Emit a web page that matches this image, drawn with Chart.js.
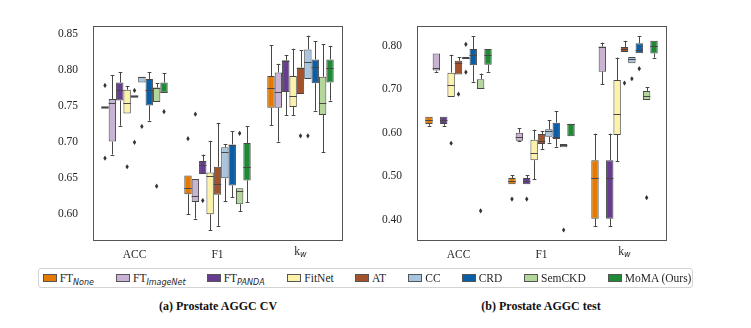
<!DOCTYPE html>
<html><head><meta charset="utf-8">
<script src="https://cdn.jsdelivr.net/npm/chart.js@4/dist/chart.umd.min.js"></script>
<style>
html,body{margin:0;padding:0;background:#fff;}
body{width:751px;height:328px;position:relative;overflow:hidden;font-family:"Liberation Serif",serif;color:#262626;}
.wrap{position:absolute;top:0;}
#legend{position:absolute;left:38px;top:268px;width:655px;height:20px;border:1px solid #d4d4d4;border-radius:3px;box-sizing:border-box;}
.it{position:absolute;top:271px;height:14px;line-height:14px;font-size:11.5px;white-space:nowrap;}
.sw{position:absolute;left:0;top:3px;width:14px;height:8px;box-sizing:border-box;border:1px solid #555;}
.tx{position:absolute;left:17px;top:0;}
.sb{font-family:"DejaVu Sans",sans-serif;font-style:italic;font-size:8px;position:relative;top:2.5px;}
.cap{position:absolute;top:299px;font-weight:bold;font-size:12px;transform:translateX(-50%);white-space:nowrap;color:#111;}
</style>
</head><body>
<div class="wrap" style="left:0"><canvas id="c1" width="350" height="262"></canvas></div>
<div class="wrap" style="left:330px"><canvas id="c2" width="350" height="262"></canvas></div>
<div id="legend"></div>
<div class="cap" style="left:218px">(a) Prostate AGGC CV</div>
<div class="cap" style="left:541px">(b) Prostate AGGC test</div>
<script>
// ---------- data ----------
const methodMain = ['FT','FT','FT','FitNet','AT','CC','CRD','SemCKD','MoMA (Ours)'];
const methodSub  = ['None','ImageNet','PANDA','','','','','',''];
const metrics = ['ACC','F1','kw'];

// five-number summaries [min, q1, median, q3, max] per method
const cvACC = [[0.749,0.749,0.749,0.749,0.749],[0.683,0.701,0.754,0.760,0.793],[0.723,0.758,0.773,0.783,0.797],[0.740,0.740,0.755,0.773,0.778],[0.764,0.764,0.764,0.764,0.764],[0.783,0.783,0.790,0.791,0.791],[0.730,0.751,0.772,0.788,0.797],[0.756,0.756,0.775,0.776,0.782],[0.769,0.769,0.770,0.783,0.796]];
const cvF1  = [[0.600,0.628,0.636,0.654,0.654],[0.594,0.617,0.626,0.649,0.649],[0.656,0.656,0.668,0.674,0.683],[0.578,0.600,0.653,0.658,0.702],[0.584,0.627,0.642,0.666,0.727],[0.618,0.650,0.686,0.693,0.697],[0.624,0.640,0.696,0.697,0.715],[0.604,0.614,0.633,0.636,0.636],[0.617,0.647,0.665,0.699,0.722]];
const cvKw  = [[0.724,0.748,0.775,0.792,0.835],[0.701,0.748,0.770,0.797,0.809],[0.738,0.770,0.8125,0.814,0.821],[0.738,0.749,0.764,0.792,0.830],[0.767,0.767,0.8025,0.804,0.828],[0.788,0.788,0.8115,0.829,0.848],[0.744,0.782,0.804,0.815,0.840],[0.686,0.738,0.755,0.791,0.836],[0.758,0.783,0.803,0.815,0.834]];
const cvACCout = [[0.779,0.678],[],[],[0.666],[0.772,0.700],[0.722],[],[0.639],[0.7425]];
const cvF1out  = [[0.705],[0.739],[0.619],[],[],[],[],[0.7125],[]];
const cvKwOut  = [[],[],[],[],[0.709],[0.709],[],[],[]];

const testACC = [[0.616,0.620,0.629,0.637,0.637],[0.740,0.743,0.749,0.782,0.782],[0.616,0.620,0.629,0.637,0.637],[0.682,0.682,0.710,0.738,0.779],[0.734,0.734,0.760,0.765,0.773],[0.769,0.769,0.771,0.774,0.774],[0.717,0.755,0.779,0.792,0.822],[0.701,0.701,0.702,0.723,0.736],[0.740,0.756,0.779,0.792,0.792]];
const testF1  = [[0.482,0.482,0.490,0.496,0.502],[0.580,0.582,0.591,0.600,0.6105],[0.482,0.482,0.490,0.496,0.502],[0.493,0.537,0.553,0.584,0.607],[0.563,0.5745,0.580,0.597,0.603],[0.5775,0.591,0.603,0.608,0.6295],[0.568,0.586,0.5905,0.623,0.649],[0.567,0.567,0.571,0.574,0.574],[0.592,0.592,0.620,0.621,0.621]];
const testKw  = [[0.386,0.403,0.497,0.537,0.598],[0.711,0.740,0.796,0.798,0.807],[0.386,0.403,0.497,0.537,0.598],[0.535,0.595,0.643,0.721,0.7725],[0.7855,0.7855,0.793,0.797,0.811],[0.7596,0.7596,0.770,0.774,0.774],[0.7825,0.7825,0.790,0.8055,0.822],[0.675,0.675,0.685,0.696,0.705],[0.7725,0.782,0.798,0.811,0.811]];
const testACCout = [[],[],[],[0.576],[0.6885],[0.803,0.739],[],[0.421],[]];
const testF1out  = [[0.448],[],[0.448],[],[],[],[],[0.377],[]];
const testKwOut  = [[],[],[],[],[0.714],[0.724],[0.747],[0.451],[]];

const cvTicks   = [0.60,0.65,0.70,0.75,0.80,0.85];
const testTicks = [0.40,0.50,0.60,0.70,0.80];

// ---------- style ----------
const palette = ['#e67a00','#c9b3d5','#663d91','#fdf2a9','#a3522a','#a8c5e0','#0a5ea8','#b5d69b','#1e8a34'];
const EDGE = '#474747';
const legendX = [42.7,116,206.7,287.3,355,408.3,461.7,524,607.7];

// ---------- legend ----------
const lg = document.body;
methodMain.forEach((m,i)=>{
  const d = document.createElement('div');
  d.className='it'; d.style.left = legendX[i]+'px';
  const sw = document.createElement('span'); sw.className='sw'; sw.style.background=palette[i];
  const tx = document.createElement('span'); tx.className='tx'; tx.textContent = m;
  if (methodSub[i]) { const s=document.createElement('span'); s.className='sb'; s.textContent=methodSub[i]; tx.appendChild(s); }
  d.appendChild(sw); d.appendChild(tx); lg.appendChild(d);
});

// ---------- plugin ----------
const boxPlugin = {
  id:'boxes',
  afterDatasetsDraw(chart, args, opts){
    const {ctx} = chart; const y = chart.scales.y;
    const px = v => y.getPixelForValue(v);
    ctx.save();
    chart.data.datasets.forEach((ds,i)=>{
      const meta = chart.getDatasetMeta(i);
      meta.data.forEach((bar,j)=>{
        const s = opts.stats[j][i];
        const x = Math.round(bar.x)+0.5, w = bar.width;
        ctx.strokeStyle = EDGE; ctx.lineWidth = 1;
        ctx.beginPath();
        if (s[4] > s[3]) { ctx.moveTo(x,px(s[3])); ctx.lineTo(x,px(s[4])); ctx.moveTo(x-w/4,Math.round(px(s[4]))+0.5); ctx.lineTo(x+w/4,Math.round(px(s[4]))+0.5); }
        if (s[0] < s[1]) { ctx.moveTo(x,px(s[1])); ctx.lineTo(x,px(s[0])); ctx.moveTo(x-w/4,Math.round(px(s[0]))+0.5); ctx.lineTo(x+w/4,Math.round(px(s[0]))+0.5); }
        ctx.stroke();
        // median
        ctx.beginPath();
        ctx.lineWidth = (s[1]===s[3]) ? 2.2 : 1;
        const my = Math.round(px(s[2]))+0.5;
        ctx.moveTo(bar.x-w/2, my); ctx.lineTo(bar.x+w/2, my);
        ctx.stroke();
        // outliers
        ctx.fillStyle = '#333';
        (opts.outliers[j][i]||[]).forEach(v=>{
          const oy = px(v);
          ctx.beginPath();
          ctx.moveTo(bar.x, oy-2.6); ctx.lineTo(bar.x+1.7, oy); ctx.lineTo(bar.x, oy+2.6); ctx.lineTo(bar.x-1.7, oy);
          ctx.closePath(); ctx.fill();
        });
      });
    });
    ctx.restore();
  },
  afterDraw(chart){
    const {ctx, chartArea:a} = chart;
    ctx.save();
    ctx.strokeStyle = '#555'; ctx.lineWidth = 1;
    ctx.strokeRect(Math.round(a.left)+0.5, Math.round(a.top)+0.5, Math.round(a.right-a.left), Math.round(a.bottom-a.top));
    // k_w label with subscript
    const xs = chart.scales.x;
    const x = xs.getPixelForTick(2);
    const ty = a.bottom + 14.5;
    ctx.fillStyle = '#262626';
    ctx.font = '11.5px "Liberation Serif", serif';
    ctx.textBaseline = 'alphabetic'; ctx.textAlign = 'left';
    const kw = ctx.measureText('k').width;
    ctx.font = 'italic 8px "DejaVu Sans", sans-serif';
    const ww = ctx.measureText('w').width;
    const x0 = x - (kw+ww)/2;
    ctx.font = '11.5px "Liberation Serif", serif';
    ctx.fillText('k', x0, ty);
    ctx.font = 'italic 8px "DejaVu Sans", sans-serif';
    ctx.fillText('w', x0+kw, ty+2.5);
    ctx.restore();
  }
};

function makeChart(id, stats, outliers, yMin, yMax, ticks, yWidth, padRight){
  const datasets = palette.map((c,i)=>({
    label: methodMain[i]+(methodSub[i]?'_'+methodSub[i]:''),
    data: stats.map(m=>[m[i][1], m[i][3]]),
    backgroundColor: c, borderColor: EDGE, borderWidth: 1, borderSkipped: false,
    categoryPercentage: 0.8, barPercentage: 1.0
  }));
  return new Chart(document.getElementById(id), {
    type:'bar',
    data:{labels: metrics, datasets},
    options:{
      responsive:false, animation:false,
      layout:{padding:{top:26,right:padRight,left:0,bottom:0}},
      plugins:{legend:{display:false}, tooltip:{enabled:false}, boxes:{stats, outliers}},
      scales:{
        x:{grid:{display:false}, border:{display:false},
           ticks:{padding:0, color:'#262626', font:{family:'"Liberation Serif", serif', size:11.5},
                  callback:(v,i)=> i===2 ? '' : metrics[i]},
           afterFit(s){ s.height = 22; }},
        y:{min:yMin, max:yMax, grid:{display:false}, border:{display:false},
           afterBuildTicks(s){ s.ticks = ticks.map(v=>({value:v})); },
           ticks:{padding:7, color:'#262626', font:{family:'"Liberation Serif", serif', size:11.5},
                  callback:v=>Number(v).toFixed(2)},
           afterFit(s){ s.width = yWidth; }}
      }
    },
    plugins:[boxPlugin]
  });
}

makeChart('c1', [cvACC,cvF1,cvKw], [cvACCout,cvF1out,cvKwOut], 0.5643, 0.8615, cvTicks, 93, 8);
makeChart('c2', [testACC,testF1,testKw], [testACCout,testF1out,testKwOut], 0.354, 0.845, testTicks, 87, 14);
</script>
</body></html>
